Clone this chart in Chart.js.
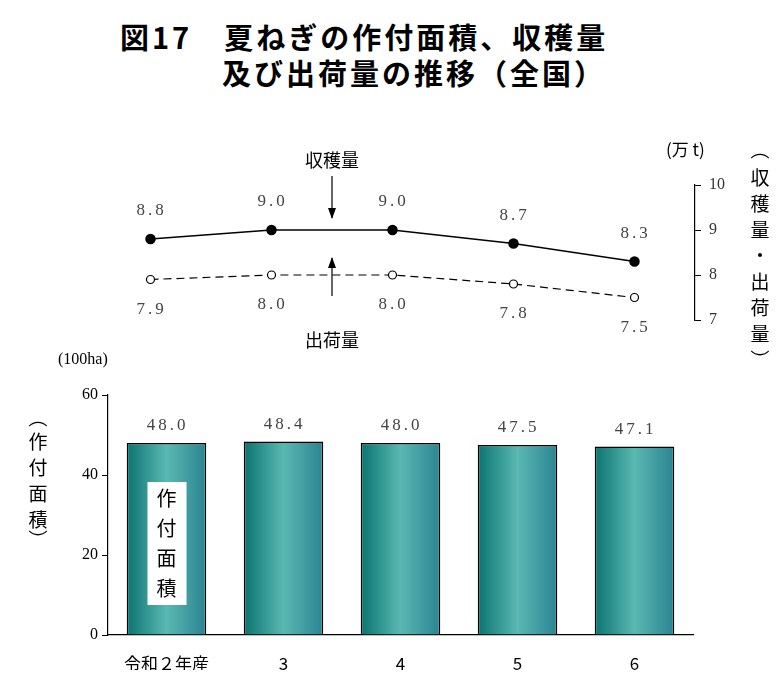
<!DOCTYPE html>
<html><head><meta charset="utf-8">
<script src="https://cdn.jsdelivr.net/npm/chart.js@4/dist/chart.umd.min.js"></script>
<style>
body{margin:0;width:783px;height:682px;background:#fff;position:relative;overflow:hidden;font-family:"Noto Sans CJK JP";}
canvas{position:absolute;left:0;top:0;}
#t{position:absolute;left:0;width:783px;top:18px;font:bold 29px "Noto Sans CJK JP";line-height:36px;letter-spacing:3px;}
</style></head><body>
<div id="t"><div style="position:absolute;left:120px;top:0;white-space:nowrap">図17　夏ねぎの作付面積、収穫量</div><div style="position:absolute;left:222px;top:36px;white-space:nowrap">及び出荷量の推移（全国）</div></div>
<canvas id="c1" width="783" height="682"></canvas>
<canvas id="c2" width="783" height="682"></canvas>
<script>
const categories=["令和２年産","3","4","5","6"];
const area=[48.0,48.4,48.0,47.5,47.1];
const harvest=[8.8,9.0,9.0,8.7,8.3];
const shipment=[7.9,8.0,8.0,7.8,7.5];
const rightTicks=[7,8,9,10];
const leftTicks=[0,20,40,60];
const serif='"Liberation Serif", serif';
const jp='"Noto Sans CJK JP", sans-serif';

function vtext(ctx,str,x,y,step){for(let i=0;i<str.length;i++){ctx.fillText(str[i],x,y+i*step);}}

new Chart(document.getElementById('c1'),{
 type:'line',
 data:{labels:categories,datasets:[
  {data:harvest,borderColor:'#000',borderWidth:1.5,pointRadius:4.5,pointBackgroundColor:'#000',pointBorderColor:'#000',clip:false},
  {data:shipment,borderColor:'#000',borderWidth:1.2,borderDash:[8,5],pointRadius:4,pointBackgroundColor:'#fff',pointBorderColor:'#000',clip:false}
 ]},
 options:{responsive:false,animation:false,events:[],
  layout:{padding:{left:90,right:48,top:185,bottom:362}},
  plugins:{legend:{display:false},tooltip:{enabled:false}},
  scales:{
   x:{type:'category',offset:true,display:false},
   y:{position:'right',min:7,max:10,afterBuildTicks:s=>{s.ticks=rightTicks.map(v=>({value:v}));},
      afterFit:s=>{s.width=40;},
      grid:{drawOnChartArea:false,tickLength:6,color:'#000',tickColor:'#000'},border:{color:'#000',width:1.2},
      ticks:{color:'#333',font:{family:serif,size:16},padding:8}}
  }},
 plugins:[{id:'lbl',afterDraw(ch){
  const c=ch.ctx,m0=ch.getDatasetMeta(0),m1=ch.getDatasetMeta(1);
  c.save();c.fillStyle='#444';c.font='17px '+serif;c.textAlign='center';c.textBaseline='middle';
  c.letterSpacing='3px';
  m0.data.forEach((p,i)=>c.fillText(harvest[i].toFixed(1),p.x+1,p.y-28));
  m1.data.forEach((p,i)=>c.fillText(shipment[i].toFixed(1),p.x+1,p.y+30));
  c.letterSpacing='0px';
  c.fillStyle='#000';c.font='18px '+jp;
  const ax=(m0.data[1].x+m0.data[2].x)/2;
  c.fillText('収穫量',ax,160);c.fillText('出荷量',ax,340);
  c.strokeStyle='#000';c.lineWidth=1.2;
  c.beginPath();c.moveTo(ax,176);c.lineTo(ax,218);c.moveTo(ax,258);c.lineTo(ax,296);c.stroke();
  c.beginPath();c.moveTo(ax-4,208);c.lineTo(ax,219);c.lineTo(ax+4,208);c.fill();
  c.beginPath();c.moveTo(ax-4,268);c.lineTo(ax,257);c.lineTo(ax+4,268);c.fill();
  c.font='17px '+jp;c.textAlign='left';c.fillText('(万 t)',666,150);
  c.textAlign='center';c.font='19px '+jp;
  c.fillText('︵',760,150);
  vtext(c,'収穫量・出荷量',760,178,26);
  c.fillText('︶',760,360);
  c.restore();
 }}]
});

new Chart(document.getElementById('c2'),{
 type:'bar',
 data:{labels:categories,datasets:[{data:area,borderColor:'#000',borderWidth:1.5,backgroundColor:'#2a9a96',barPercentage:0.68,categoryPercentage:1}]},
 options:{responsive:false,animation:false,events:[],
  layout:{padding:{left:78,right:90,top:395,bottom:12}},
  plugins:{legend:{display:false},tooltip:{enabled:false}},
  scales:{
   x:{grid:{display:false},border:{color:'#000',width:1.2},afterFit:s=>{s.height=35;},
      ticks:{color:'#000',font:{family:jp,size:17},padding:10}},
   y:{min:0,max:60,afterBuildTicks:s=>{s.ticks=leftTicks.map(v=>({value:v}));},afterFit:s=>{s.width=30;},
      grid:{drawOnChartArea:false,tickLength:6,tickColor:'#000'},border:{color:'#000',width:1.2},
      ticks:{color:'#000',font:{family:serif,size:16},padding:4}}
  }},
 plugins:[{id:'grad',beforeDatasetsDraw(ch){
  const c=ch.ctx;
  ch.getDatasetMeta(0).data.forEach(el=>{
   const g=c.createLinearGradient(el.x-el.width/2,0,el.x+el.width/2,0);
   g.addColorStop(0,'#0a7470');g.addColorStop(0.5,'#5ab8b2');g.addColorStop(1,'#2b8492');
   el.options=Object.assign({},el.options,{backgroundColor:g,borderColor:'#000',borderWidth:1.5});});
 },afterDraw(ch){
  const c=ch.ctx,m=ch.getDatasetMeta(0);
  c.save();c.fillStyle='#444';c.font='17px '+serif;c.textAlign='center';c.textBaseline='middle';
  c.letterSpacing='3px';
  m.data.forEach((b,i)=>c.fillText(area[i].toFixed(1),b.x+1,b.y-17));
  c.letterSpacing='0px';
  c.fillStyle='#000';c.font='16px '+serif;c.textAlign='left';c.fillText('(100ha)',58,360);
  const b0=m.data[0];
  c.fillStyle='#fff';c.fillRect(b0.x-19,482,39,123);
  c.fillStyle='#000';c.font='20px '+jp;c.textAlign='center';
  vtext(c,'作付面積',b0.x,498,30);
  c.font='19px '+jp;
  c.fillText('︵',38,418);vtext(c,'作付面積',38,442,26);c.fillText('︶',38,540);
  c.restore();
 }}]
});
</script></body></html>
